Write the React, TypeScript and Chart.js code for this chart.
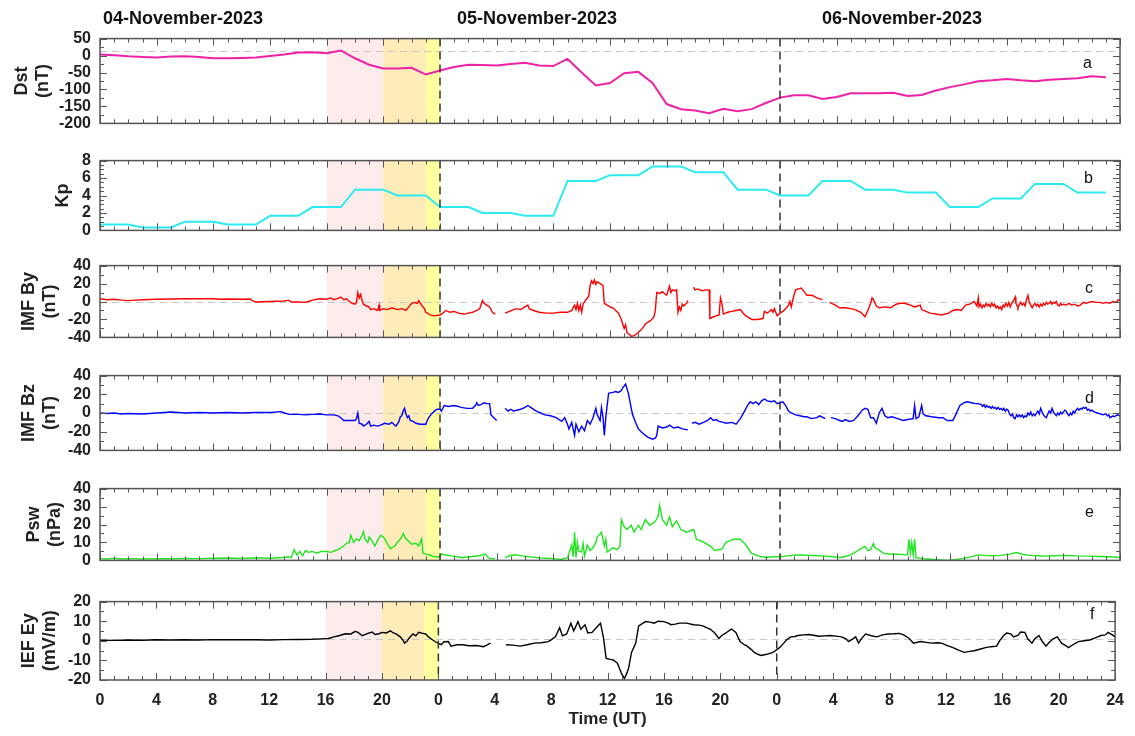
import React, { useEffect, useRef } from 'react';
import { Chart, registerables } from 'chart.js';

Chart.register(...registerables);

type Pt = [number, number | null];

// ---------------- data ----------------
const dayLabels = ['04-November-2023', '05-November-2023', '06-November-2023'];
const panelLetters = ['a', 'b', 'c', 'd', 'e', 'f'];

// shaded intervals (hours from 04-Nov 00 UT)
const shadeFrom = [16, 20, 23];
const shadeTo = [20, 23, 24];
const dayBoundaries = [24, 48];

// Dst hourly values (nT), hour 0..71
const dstValues = [
  3, 1, -2, -4, -6, -3, -2, -4, -8, -8, -7, -6, -1, 3, 9, 10, 7, 15, -8, -27, -38, -38, -36, -56,
  -44, -34, -27, -28, -29, -25, -21, -29, -31, -10, -50, -88, -81, -52, -48, -81, -143, -158, -162, -170,
  -157, -164, -158, -140, -124, -117, -117, -128, -122, -111, -111, -111, -110, -119, -116, -103, -93, -85, -76, -73,
  -69, -73, -76, -71, -69, -67, -61, -64,
];

// Kp hourly values, hour 0..71
const kpValues = [
  0.67, 0.67, 0.67, 0.33, 0.33, 0.33, 1, 1, 1, 0.67, 0.67, 0.67, 1.67, 1.67, 1.67, 2.67, 2.67, 2.67,
  4.67, 4.67, 4.67, 4, 4, 4, 2.67, 2.67, 2.67, 2, 2, 2, 1.67, 1.67, 1.67, 5.67, 5.67, 5.67,
  6.33, 6.33, 6.33, 7.33, 7.33, 7.33, 6.67, 6.67, 6.67, 4.67, 4.67, 4.67, 4, 4, 4, 5.67, 5.67, 5.67,
  4.67, 4.67, 4.67, 4.33, 4.33, 4.33, 2.67, 2.67, 2.67, 3.67, 3.67, 3.67, 5.33, 5.33, 5.33, 4.33, 4.33, 4.33,
];

// IMF By (nT): [hour, value]
const byData: Pt[] = [
  [0, 3], [0.5, 2], [1, 2.5], [1.5, 1.5], [2, 1], [2.5, 1.5], [3, 2], [4, 2.5], [5, 2.8], [6, 3], [7, 3.2], [8, 3],
  [8.5, 2.5], [9, 2.8], [10, 2.5], [10.6, 2.8], [10.8, 0.5], [11, -0.5], [12, 0], [13, 0.5], [13.3, 1.5], [13.5, -0.5],
  [14, -0.5], [14.5, -1], [14.7, 0], [15, 1.5], [15.5, 3], [16, 2.5], [16.3, 4], [16.5, 2], [16.8, 3.5], [17, 5],
  [17.2, 2], [17.4, 3], [17.6, 0], [17.8, -2], [18, -3], [18.1, -1], [18.2, 10], [18.3, 4], [18.4, 8], [18.5, 1],
  [18.6, -3], [18.8, -5], [19, -6], [19.1, -9], [19.3, -8], [19.6, -10], [19.7, -4], [19.75, -10], [20, -8], [20.3, -9],
  [20.6, -7], [21, -9], [21.3, -8], [21.6, -10], [21.8, -6], [22, -2], [22.2, -1], [22.4, -2], [22.5, 1], [22.7, -4],
  [22.9, -8], [23, -12], [23.3, -15], [23.6, -16], [24, -15], [24.2, -13], [24.4, -10], [24.7, -12], [25, -11],
  [25.3, -13], [25.7, -14], [26, -13], [26.3, -12], [26.6, -10], [26.8, -8], [27, 1], [27.1, -2], [27.3, -4],
  [27.5, -6], [27.7, -12], [27.9, -14], [28.1, null], [28.6, -13], [28.9, -11], [29.2, -9], [29.4, -8], [29.7, -9],
  [30, -6], [30.2, -4], [30.3, -8], [30.6, -10], [31, -12], [31.5, -13], [32, -13], [32.5, -12], [33, -12], [33.3, -10],
  [33.5, -4], [33.6, -9], [33.7, -2], [33.8, -10], [33.9, -4], [34, -12], [34.1, -3], [34.3, 2], [34.5, 6], [34.6, 18],
  [34.7, 23], [34.8, 20], [34.9, 24], [35, 19], [35.1, 22], [35.3, 20], [35.5, 18], [35.6, -2], [35.8, -4], [36, -6],
  [36.2, -7], [36.4, -10], [36.6, -13], [36.8, -20], [36.9, -25], [37, -30], [37.1, -26], [37.2, -35], [37.4, -37],
  [37.5, -39], [37.7, -38], [37.9, -36], [38.1, -33], [38.3, -30], [38.5, -25], [38.7, -23], [38.9, -21], [39.1, -17],
  [39.2, -10], [39.3, 10], [39.5, 9], [39.7, 11], [39.9, 8], [40, 7], [40.1, 12], [40.2, 17], [40.3, 10], [40.4, 13],
  [40.6, 12], [40.7, 13], [40.8, -12], [40.9, -6], [41, -10], [41.1, -3], [41.2, -5], [41.4, -2], [41.5, 1],
  [41.6, null], [41.9, 16], [42, 13], [42.2, 14], [42.5, 12], [42.8, 13], [43, 13], [43.05, -19], [43.3, -17],
  [43.5, -16], [43.7, -15], [43.8, 4], [43.9, -2], [44, -14], [44.3, -12], [44.6, -11], [44.9, -10], [45.2, -9],
  [45.4, -13], [45.6, -16], [45.8, -18], [46, -20], [46.4, -20], [46.8, -19], [46.9, -11], [47.1, -13], [47.4, -9],
  [47.5, -12], [47.6, -8], [47.8, -16], [48, -13], [48.2, -11], [48.4, -8], [48.6, -4], [48.7, 0], [48.8, -6],
  [48.9, 2], [49.1, 13], [49.3, 14], [49.5, 15], [49.6, 13], [49.8, 9], [49.9, 7], [50.2, 7], [50.4, 6], [50.6, 4],
  [51, 2], [51.2, null], [51.5, -1], [51.9, -4], [52.2, -7], [52.6, -7], [53, -8], [53.3, -9], [53.7, -12], [54, -17],
  [54.2, -10], [54.4, -2], [54.5, 4], [54.6, 2], [54.8, -5], [55, -7], [55.4, -6], [55.8, -7], [56.2, -3], [56.5, -2],
  [56.8, -2], [57.2, -4], [57.5, -6], [57.9, -4], [58, -9], [58.3, -11], [58.6, -13], [59, -14], [59.4, -15],
  [59.9, -13], [60.2, -10], [60.5, -9], [60.8, -10], [61.1, -4], [61.4, -3], [61.7, 0], [61.9, -5],
  [62, 4], [62.05, -6], [62.15, -3], [62.25, -7], [62.35, -4], [62.45, -6], [62.55, -2], [62.65, -5], [62.75, -3],
  [62.85, -6], [62.95, -2], [63.05, -5], [63.15, -3], [63.25, -7], [63.35, -5], [63.45, -8], [63.55, -6], [63.65, -9],
  [63.75, -4], [63.85, -6], [63.95, -2], [64.05, -5], [64.15, -1], [64.25, -6], [64.35, -2], [64.45, 0], [64.55, 3],
  [64.6, 5], [64.65, -2], [64.75, -5], [64.8, -7], [64.9, -3], [65, -1], [65.1, -4], [65.2, -2], [65.3, -5], [65.4, 2],
  [65.5, 7], [65.55, 3], [65.6, -1], [65.7, -4], [65.8, -7], [65.9, -4], [66, -2], [66.1, -5], [66.2, -3], [66.3, -6],
  [66.4, -3], [66.5, -5], [66.6, -2], [66.7, -4], [66.8, -1], [66.9, -3], [67, -2], [67.1, 0], [67.2, -3], [67.3, -1],
  [67.4, -2], [67.5, 0], [67.6, -4], [67.7, -5], [67.8, -2], [67.9, -4], [68, -3], [68.2, -4], [68.4, -2], [68.6, -4],
  [68.8, -3], [69, -5], [69.2, -4], [69.4, -1], [69.6, -2], [69.8, -1], [70, 0], [70.3, -1], [70.6, -1], [70.8, -2],
  [71, -1], [71.3, -2], [71.5, 0], [71.7, -1], [71.9, 2], [72, 1],
];

// IMF Bz (nT): [hour, value]
const bzData: Pt[] = [
  [0, 0], [0.5, -0.5], [1, 0], [1.5, -1], [2, -0.5], [3, -1], [4, 0], [5, 1], [5.5, 0.5], [6, 0], [7, 0.5], [8, 0],
  [9, 0.5], [10, 0], [11, 0.5], [12, 0.5], [12.8, 1.5], [13, 0], [13.4, -1.5], [14, -1.5], [14.5, -2], [15, -1.5],
  [15.5, -1], [16, -2], [16.5, -2], [16.8, -3], [17, -5], [17.2, -8], [17.6, -8], [18, -8], [18.1, -6], [18.2, 0],
  [18.3, -11], [18.5, -12], [18.6, -14], [18.8, -12], [19, -9], [19.1, -14], [19.3, -13], [19.6, -14], [19.8, -13],
  [20.1, -11], [20.4, -12], [20.6, -10], [20.8, -13], [20.9, -14], [21.1, -9], [21.2, -4], [21.3, -3], [21.4, 2],
  [21.5, 5], [21.6, -1], [21.7, -5], [21.8, -3], [21.9, -8], [22.1, -9], [22.3, -11], [22.6, -12], [23, -12],
  [23.1, -8], [23.2, -5], [23.4, -1], [23.6, 2], [23.8, 4], [24, 4], [24.1, 2], [24.3, 8], [24.6, 7], [25, 8],
  [25.3, 7], [25.5, 6], [25.9, 5], [26.3, 5], [26.5, 8], [26.6, 11], [26.7, 8], [26.9, 9], [27.1, 11], [27.3, 10],
  [27.5, 10], [27.6, -2], [27.8, -5], [28, -8], [28.1, null], [28.6, 5], [28.8, 2], [29, 4], [29.2, 2], [29.4, 3],
  [29.7, 4], [30, 6], [30.2, 8], [30.4, 6], [30.5, 5], [30.8, 2], [31.1, 0], [31.4, -2], [31.8, -3], [32.2, -5],
  [32.6, -9], [32.8, -5], [33, -12], [33.1, -17], [33.3, -10], [33.5, -24], [33.6, -12], [33.8, -20], [34, -14],
  [34.2, -19], [34.4, -8], [34.6, -12], [34.8, -5], [35, 5], [35.1, -2], [35.3, -8], [35.4, 6], [35.5, -4],
  [35.6, -24], [35.7, -5], [35.9, 21], [36.2, 22], [36.4, 23], [36.6, 22], [36.8, 24], [36.9, 27], [37.1, 31],
  [37.2, 26], [37.3, 21], [37.5, 5], [37.6, -2], [37.8, -10], [38, -17], [38.2, -20], [38.5, -24], [38.7, -26],
  [39, -28], [39.2, -27], [39.3, -24], [39.4, -14], [39.7, -16], [40, -15], [40.2, -13], [40.5, -16], [40.8, -15],
  [41.1, -17], [41.5, -18], [41.6, null], [41.8, -11], [42, -10], [42.3, -12], [42.6, -10], [42.9, -8], [43.1, -5],
  [43.3, -8], [43.5, -7], [43.7, -9], [44, -10], [44.2, -11], [44.6, -10], [44.9, -12], [45.2, -6], [45.5, 2],
  [45.7, 8], [45.9, 12], [46.1, 10], [46.3, 12], [46.5, 9], [46.7, 13], [46.9, 15], [47.1, 13], [47.4, 12],
  [47.6, 13], [47.8, 10], [48, 11], [48.2, 12], [48.4, 8], [48.6, 2], [48.8, 0], [49.1, -2], [49.4, -3], [49.7, -4],
  [49.9, -4], [50.2, -6], [50.6, -5], [50.8, -3], [51.2, -6], [51.3, null], [51.6, -5], [51.9, -6], [52.2, -8],
  [52.4, -9], [52.6, -7], [52.9, -9], [53.2, -8], [53.5, -3], [53.8, 3], [54, 5], [54.2, 4], [54.4, -5], [54.6, -5],
  [54.8, -11], [55, 0], [55.2, 5], [55.4, -3], [55.6, -5], [55.9, -4], [56.3, -6], [56.7, -8], [57, -7], [57.4, -6],
  [57.5, 8], [57.6, -6], [57.8, -4], [58, 8], [58.1, -1], [58.3, -3], [58.7, -4], [59.2, -5], [59.5, -5], [59.8, -8],
  [60.2, -8], [60.4, -2], [60.7, 8], [61, 11], [61.2, 12], [61.5, 11], [61.8, 10], [62, 10],
  [62.2, 9], [62.3, 7], [62.4, 9], [62.5, 6], [62.6, 8], [62.7, 6], [62.8, 7], [62.9, 5], [63, 7], [63.1, 5],
  [63.2, 6], [63.3, 4], [63.4, 6], [63.5, 4], [63.6, 5], [63.7, 3], [63.8, 5], [63.9, 2], [64, 4], [64.1, 3],
  [64.2, -1], [64.3, -3], [64.4, -1], [64.5, -5], [64.6, -6], [64.7, -2], [64.8, -4], [64.9, -2], [65, -4], [65.1, -2],
  [65.2, -5], [65.3, -3], [65.4, -4], [65.5, 0], [65.6, -2], [65.7, 1], [65.8, -3], [65.9, -1], [66, -3], [66.1, 0],
  [66.2, 2], [66.3, -1], [66.4, 5], [66.5, 1], [66.6, -2], [66.7, -4], [66.8, -5], [66.9, -1], [67, 2], [67.1, 0],
  [67.2, 5], [67.3, 1], [67.4, -1], [67.5, -3], [67.6, 0], [67.7, -2], [67.8, 1], [67.9, -1], [68, 1], [68.1, 3],
  [68.2, 2], [68.3, -1], [68.4, -3], [68.5, 0], [68.6, -2], [68.7, 2], [68.8, 0], [68.9, 3], [69, 5], [69.1, 3],
  [69.2, 5], [69.3, 4], [69.4, 6], [69.5, 5], [69.6, 6], [69.7, 3], [69.8, 4], [69.9, 2], [70, 3], [70.2, 1],
  [70.4, 0], [70.6, -1], [70.8, -2], [71, -1], [71.1, -3], [71.2, -2], [71.3, -5], [71.5, -3], [71.6, -4], [71.8, -2],
  [72, -3],
];

// Solar wind dynamic pressure (nPa): [hour, value]
const pswData: Pt[] = [
  [0, 1], [0.5, 0.8], [1, 1.2], [1.5, 0.8], [2, 1], [3, 0.8], [4, 1], [5, 0.9], [6, 1.1], [7, 1], [8, 1.2], [9, 1.3],
  [10, 1.1], [11, 1.5], [12, 1.2], [12.9, 1.6], [13.3, 2], [13.5, 1.5], [13.7, 6], [13.9, 3], [14.1, 5], [14.3, 2.5],
  [14.5, 5.5], [14.7, 4.5], [15, 5], [15.3, 4], [15.6, 5], [16, 5], [16.3, 4.5], [16.6, 5.5], [16.8, 6], [17, 7],
  [17.2, 8], [17.4, 9.5], [17.6, 10], [17.7, 14], [17.8, 12], [17.9, 10], [18.1, 12], [18.3, 11], [18.5, 14],
  [18.6, 16], [18.7, 12], [18.9, 10], [19, 13], [19.2, 11], [19.4, 8], [19.6, 11], [19.8, 14], [20, 13], [20.1, 12],
  [20.3, 9], [20.5, 6.5], [20.8, 8], [21.1, 11], [21.3, 13], [21.4, 15], [21.6, 12], [21.8, 10.5], [22, 9],
  [22.3, 9.5], [22.5, 8], [22.7, 12], [22.8, 4], [23, 3.5], [23.3, 3], [23.6, 2], [24, 2], [24.1, 3.5], [24.4, 3],
  [24.8, 2.5], [25.2, 2], [25.6, 1.5], [26, 2], [26.3, 2.2], [26.8, 2.6], [27.2, 3.5], [27.4, 1.5], [27.6, 1],
  [27.9, 1], [28.1, null], [28.6, 1.5], [28.9, 2.6], [29.2, 3], [29.4, 3.1], [29.8, 2.5], [30.2, 2], [30.6, 1.8],
  [31, 1.4], [31.5, 1.2], [32, 1], [32.5, 0.5], [33, 1.4], [33.3, 8.6], [33.4, 2], [33.5, 15.7], [33.6, 1.6],
  [33.7, 10], [33.8, 5], [34, 4.7], [34.1, 9.4], [34.2, 2.4], [34.4, 8.6], [34.6, 5.5], [34.8, 7], [35, 10],
  [35.1, 13], [35.4, 15.7], [35.6, 8], [35.7, 11.8], [35.8, 4.7], [36.2, 7], [36.5, 6], [36.7, 7.8], [36.8, 22.7],
  [37, 18.8], [37.2, 17.2], [37.5, 19.6], [37.7, 15.7], [38, 19.6], [38.2, 17.2], [38.5, 22.7], [38.8, 19.6],
  [39.1, 21.2], [39.3, 23], [39.4, 25], [39.5, 30.6], [39.6, 27], [39.7, 22.7], [40, 19.6], [40.2, 24.3],
  [40.4, 18.8], [40.7, 22], [41, 17.2], [41.4, 15.7], [41.9, 17.2], [42.1, 11.8], [42.6, 10.2], [43.1, 7.8],
  [43.4, 5.5], [43.9, 6.3], [44.2, 10.2], [44.5, 11], [44.7, 11.8], [45.2, 11.8], [45.5, 9.4], [46, 3.9],
  [46.5, 2.4], [47, 1.6], [47.5, 2], [48, 2], [48.5, 2.5], [49.1, 3.1], [49.6, 3], [50.1, 2.8], [50.6, 2.6],
  [51.2, 2.4], [51.7, 2], [52.2, 1.6], [52.6, 2.2], [53, 3.1], [53.3, 4.5], [53.5, 5.5], [53.8, 7], [54, 7.8],
  [54.2, 5.5], [54.4, 6], [54.6, 9.4], [54.7, 7], [54.9, 6.3], [55.3, 3.9], [55.8, 3.6], [56.3, 3.4], [57, 3.1],
  [57.1, 11.8], [57.2, 4], [57.3, 10], [57.4, 3], [57.5, 11.8], [57.6, 1.6], [58, 1], [58.4, 0.8], [59, 0.4],
  [59.9, 0], [60.5, 0.6], [61, 1.1], [61.5, 2], [62, 3.1], [62.5, 2.8], [63, 2.6], [63.6, 2.8], [64.2, 3.5],
  [64.7, 4.4], [65.1, 3.4], [65.6, 2.8], [66.2, 2.6], [66.7, 2.4], [67.4, 2.6], [68.2, 2.8], [69, 2.5], [69.8, 2.4],
  [70.5, 2.2], [71.2, 2], [72, 1.6],
];

// Interplanetary electric field Ey (mV/m): [hour, value]
const eyData: Pt[] = [
  [0, 0.3], [1, 0.2], [2, 0.4], [3, 0.3], [4, 0.5], [5, 0.4], [6, 0.5], [7, 0.4], [8, 0.6], [9, 0.5], [10, 0.6],
  [11, 0.5], [12, 0.4], [13, 0.6], [14, 0.7], [15, 0.8], [15.7, 1], [16.2, 1.2], [16.6, 2], [17, 2.7], [17.4, 3.6],
  [17.8, 3.5], [18.1, 4.8], [18.3, 4.3], [18.6, 2.6], [19, 3.8], [19.3, 4.5], [19.5, 3.2], [19.8, 3.6], [20, 4.3],
  [20.3, 4], [20.6, 5.1], [20.8, 4], [21, 3.5], [21.2, 2.5], [21.3, 2], [21.5, 0.2], [21.6, -1.2], [21.8, 0],
  [21.9, 1.2], [22.2, 3.5], [22.4, 2.5], [22.6, 4.3], [22.9, 3.8], [23.1, 3.5], [23.3, 2], [23.6, 0.4], [23.9, -1],
  [24.2, -2], [24.4, -0.5], [24.7, -0.4], [24.9, -2.7], [25.3, -2], [25.7, -2], [26.2, -2.5], [26.7, -2.4],
  [27.2, -3], [27.5, -2], [27.7, -1.2], [28, null], [28.8, -2], [29.3, -2.2], [29.8, -2.7], [30.3, -2], [30.8, -1.2],
  [31.3, -1], [31.8, -0.4], [32, 0.5], [32.3, 2], [32.6, 6.7], [32.8, 2.5], [33.1, 3.5], [33.4, 9], [33.6, 5],
  [33.9, 9.8], [34.1, 5.9], [34.4, 8.2], [34.6, 4], [34.9, 4.3], [35.2, 6.7], [35.4, 8.2], [35.5, 9], [35.7, 2],
  [35.9, -9], [36.2, -9.5], [36.4, -9.8], [36.7, -11.4], [37, -16.9], [37.2, -19.2], [37.4, -16], [37.5, -13.7],
  [37.7, -5.9], [38, -1.2], [38.2, 7.5], [38.4, 8.5], [38.7, 9.8], [39, 9.5], [39.3, 9], [39.6, 10], [40, 9.8],
  [40.3, 9], [40.5, 8.2], [40.8, 8.5], [41.1, 9], [41.6, 9], [42.1, 8.2], [42.5, 8], [42.8, 7.5], [43.1, 6.5],
  [43.3, 5.9], [43.6, 4], [43.9, 1.2], [44.1, 2.7], [44.4, 4], [44.6, 5.1], [44.8, 6], [45.1, 4.3], [45.4, -0.4],
  [45.7, -2], [45.9, -2.7], [46.2, -4.5], [46.4, -5.9], [46.7, -7], [46.9, -7.5], [47.2, -7], [47.4, -6.7],
  [47.7, -6], [47.9, -5.1], [48.2, -3.5], [48.5, -1.2], [48.7, 0.5], [49, 2], [49.3, 2.2], [49.5, 2.7], [49.9, 3],
  [50.3, 3.2], [50.6, 2.8], [51, 2.3], [51.4, 2.5], [51.8, 2.7], [52.2, 2.4], [52.6, 2], [52.9, 1], [53.1, -0.4],
  [53.4, 1], [53.6, 2], [53.8, -1.2], [54, 1], [54.3, 3.5], [54.7, 2.6], [55.1, 2], [55.5, 3], [55.9, 3.5],
  [56.3, 3.6], [56.7, 3.8], [57, 3], [57.4, 1.2], [57.7, -1.2], [58.2, -0.4], [58.6, -0.8], [59, -1.2], [59.4, -1],
  [59.7, -1.2], [60.1, -2.5], [60.5, -3.5], [60.9, -4.8], [61.3, -5.9], [61.6, -5.5], [62, -5.1], [62.4, -4.3],
  [62.8, -3.5], [63.2, -3], [63.6, -2.7], [63.8, 0], [64.1, 2.7], [64.3, 4], [64.6, 3.5], [64.8, 2], [65.1, 2.7],
  [65.3, 4.5], [65.6, 4.3], [65.8, 1], [66.1, -1.2], [66.3, 1], [66.6, 2.7], [66.8, 0], [67.1, -2.7], [67.3, -1],
  [67.6, 1], [67.9, 2], [68.2, -1.2], [68.5, -2.5], [68.7, -3.5], [69, -2], [69.4, -0.4], [69.8, 0], [70.2, 0.4],
  [70.6, 1.5], [71, 2.7], [71.3, 3], [71.5, 4.3], [71.8, 3], [72, 2],
];

// ---------------- styling / layout ----------------
const FONT = '"Liberation Sans", Arial, Helvetica, sans-serif';
const W = 1135;
const H = 736;
const PAD = 12;
const shadeColors = ['#FCEBEB', '#FDEBB8', '#FFFFA0'];

interface PanelSpec {
  top: number; bottom: number;
  min: number; max: number; step: number; minor: number;
  title: string[]; titlePad: number;
  points: Pt[]; color: string; lineWidth: number;
  refLine: number | null;
  letterX: number; letterY: number;
  showX: boolean;
}

const hourly = (vals: number[]): Pt[] => vals.map((v, i) => [i, v] as Pt);

const panels: PanelSpec[] = [
  { top: 32, bottom: 130, min: -200, max: 50, step: 50, minor: 25, title: ['Dst', '(nT)'], titlePad: 11,
    points: hourly(dstValues), color: '#EE22A6', lineWidth: 2, refLine: 12, letterX: 1088, letterY: 63, showX: false },
  { top: 154, bottom: 237, min: 0, max: 8, step: 2, minor: 0.5, title: ['Kp'], titlePad: 52,
    points: hourly(kpValues), color: '#2BEAF2', lineWidth: 2, refLine: null, letterX: 1089, letterY: 178, showX: false },
  { top: 259, bottom: 344, min: -40, max: 40, step: 20, minor: 10, title: ['IMF By', '(nT)'], titlePad: 18,
    points: byData, color: '#FF0000', lineWidth: 1.4, refLine: 0, letterX: 1090, letterY: 288, showX: false },
  { top: 369, bottom: 457, min: -40, max: 40, step: 20, minor: 10, title: ['IMF Bz', '(nT)'], titlePad: 18,
    points: bzData, color: '#0000FF', lineWidth: 1.4, refLine: 0, letterX: 1090, letterY: 398, showX: false },
  { top: 482, bottom: 567, min: 0, max: 40, step: 10, minor: 5, title: ['Psw', '(nPa)'], titlePad: 23,
    points: pswData, color: '#1EE61E', lineWidth: 1.4, refLine: null, letterX: 1090, letterY: 512, showX: false },
  { top: 595, bottom: 680, min: -20, max: 20, step: 10, minor: 5, title: ['IEF Ey', '(mV/m)'], titlePad: 18,
    points: eyData, color: '#000000', lineWidth: 1.4, refLine: 1, letterX: 1095, letterY: 614, showX: true },
];

function makeDecor(p: PanelSpec) {
  return {
    id: 'decor',
    beforeDatasetsDraw(chart: any) {
      const { ctx, chartArea: a, scales } = chart;
      const x = scales.x;
      const y = scales.y;
      ctx.save();
      for (let i = 0; i < shadeFrom.length; i++) {
        const x0 = x.getPixelForValue(shadeFrom[i]);
        const x1 = x.getPixelForValue(shadeTo[i]);
        ctx.fillStyle = shadeColors[i];
        ctx.fillRect(x0, a.top, x1 - x0, a.bottom - a.top);
      }
      if (p.refLine !== null) {
        const py = Math.round(y.getPixelForValue(p.refLine)) + 0.5;
        ctx.strokeStyle = '#C8C8C8';
        ctx.lineWidth = 1.2;
        ctx.setLineDash([7, 5]);
        ctx.beginPath();
        ctx.moveTo(a.left, py);
        ctx.lineTo(a.right, py);
        ctx.stroke();
      }
      ctx.restore();
    },
    afterDatasetsDraw(chart: any) {
      const { ctx, chartArea: a, scales } = chart;
      const x = scales.x;
      const y = scales.y;
      ctx.save();
      ctx.strokeStyle = '#333333';
      ctx.lineWidth = 1.5;
      ctx.setLineDash([8, 5]);
      dayBoundaries.forEach((d) => {
        const px = x.getPixelForValue(d);
        ctx.beginPath();
        ctx.moveTo(px, a.top);
        ctx.lineTo(px, a.bottom);
        ctx.stroke();
      });
      ctx.setLineDash([]);
      ctx.strokeStyle = '#555555';
      ctx.lineWidth = 1;
      ctx.beginPath();
      for (let h = 0; h <= 72; h++) {
        const px = Math.round(x.getPixelForValue(h)) + 0.5;
        const len = h % 4 === 0 ? 7 : 4;
        ctx.moveTo(px, a.top);
        ctx.lineTo(px, a.top + len);
        ctx.moveTo(px, a.bottom);
        ctx.lineTo(px, a.bottom - len);
      }
      const n = Math.round((p.max - p.min) / p.minor);
      for (let i = 0; i <= n; i++) {
        const v = p.min + i * p.minor;
        const py = Math.round(y.getPixelForValue(v)) + 0.5;
        const r = (v - p.min) / p.step;
        const len = Math.abs(r - Math.round(r)) < 1e-6 ? 7 : 4;
        ctx.moveTo(a.left, py);
        ctx.lineTo(a.left + len, py);
        ctx.moveTo(a.right, py);
        ctx.lineTo(a.right - len, py);
      }
      ctx.stroke();
      ctx.strokeStyle = '#555555';
      ctx.lineWidth = 1.5;
      ctx.strokeRect(a.left, a.top, a.right - a.left, a.bottom - a.top);
      ctx.restore();
    },
  };
}

function Panel({ p }: { p: PanelSpec }) {
  const ref = useRef<HTMLCanvasElement>(null);
  const canvasTop = p.top - PAD;
  const canvasH = p.showX ? H - canvasTop : p.bottom - p.top + 2 * PAD;

  useEffect(() => {
    if (!ref.current) return;
    const tickFont = { family: FONT, size: 16, weight: 'bold' as const };
    const chart = new Chart(ref.current, {
      type: 'line',
      data: {
        datasets: [
          {
            data: p.points.map(([t, v]) => ({ x: t, y: v })) as any,
            borderColor: p.color,
            borderWidth: p.lineWidth,
            pointRadius: 0,
            tension: 0,
            fill: false,
            spanGaps: false,
          },
        ],
      },
      options: {
        responsive: false,
        maintainAspectRatio: false,
        animation: false,
        events: [],
        layout: { padding: { left: 0, right: W - 1120, top: PAD, bottom: p.showX ? 0 : PAD } },
        plugins: { legend: { display: false }, tooltip: { enabled: false }, title: { display: false } },
        scales: {
          x: {
            type: 'linear',
            min: 0,
            max: 72,
            display: p.showX,
            grid: { display: false, drawTicks: false },
            border: { display: false },
            ticks: {
              stepSize: 4,
              autoSkip: false,
              maxRotation: 0,
              padding: 11,
              color: '#222222',
              font: tickFont,
              callback: (v: any) => (Number(v) === 72 ? '24' : String(Number(v) % 24)),
            },
            title: {
              display: true,
              text: 'Time (UT)',
              color: '#222222',
              font: { family: FONT, size: 17, weight: 'bold' },
              padding: { top: 0, bottom: 6 },
            },
            afterFit: (s: any) => {
              if (p.showX) s.height = H - p.bottom;
            },
          },
          y: {
            type: 'linear',
            min: p.min,
            max: p.max,
            grid: { display: false, drawTicks: false },
            border: { display: false },
            ticks: { stepSize: p.step, autoSkip: false, padding: 9, color: '#222222', font: tickFont },
            title: {
              display: true,
              text: p.title,
              color: '#222222',
              font: { family: FONT, size: 18, weight: 'bold' },
              padding: { top: p.titlePad, bottom: 0 },
            },
            afterFit: (s: any) => {
              s.width = 100;
            },
          },
        },
      },
      plugins: [makeDecor(p)],
    });
    return () => chart.destroy();
  }, []);

  return (
    <canvas
      ref={ref}
      width={W}
      height={canvasH}
      style={{ position: 'absolute', left: 0, top: canvasTop, width: W, height: canvasH }}
    />
  );
}

const dayLabelLeft = [103, 457, 822];

export default function App() {
  return (
    <div style={{ position: 'absolute', left: 0, top: 0, width: W, height: H, background: '#ffffff', overflow: 'hidden', fontFamily: FONT }}>
      {panels.map((p, i) => (
        <Panel key={i} p={p} />
      ))}
      {dayLabels.map((t, i) => (
        <div key={t} style={{ position: 'absolute', left: dayLabelLeft[i], top: 7, fontSize: 18, fontWeight: 'bold', lineHeight: '22px', color: '#111', whiteSpace: 'nowrap' }}>
          {t}
        </div>
      ))}
      {panels.map((p, i) => (
        <div key={'l' + i} style={{ position: 'absolute', left: p.letterX - 5, top: p.letterY - 10, fontSize: 16, lineHeight: '20px', color: '#111' }}>
          {panelLetters[i]}
        </div>
      ))}
    </div>
  );
}
